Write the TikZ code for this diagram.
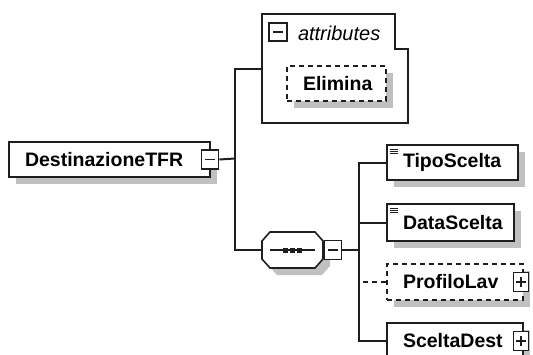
\documentclass[tikz,border=0pt]{standalone}
\usepackage{fontspec}
\newfontfamily\xsdfont{Liberation Sans}
\usetikzlibrary{shadows}
\definecolor{shadegray}{RGB}{192,192,192}
\definecolor{inkgray}{RGB}{30,30,30}

\begin{document}
\begin{tikzpicture}[x=1pt,y=-1pt,line width=2pt,draw=inkgray,
  every node/.style={font=\xsdfont\fontsize{19.5}{22}\selectfont\bfseries},
  elem/.style={draw=inkgray,fill=white,anchor=north west,inner xsep=16pt,inner ysep=0pt,
    align=left,drop shadow={shadow xshift=7pt,shadow yshift=-7pt,fill=shadegray,opacity=1}},
  optelem/.style={elem,dash pattern=on 5pt off 4pt},
  simple/.style={path picture={
    \foreach \dy in {4,6,8}
      \draw[line width=0.9pt] ([xshift=2.5pt,yshift=-\dy pt]path picture bounding box.north west) -- ++(8pt,0);}},
  minusbox/.style={draw=inkgray,fill=white,minimum width=17pt,minimum height=19pt,inner sep=0pt,line width=1.6pt,
    path picture={\draw[line width=1.4pt] ([xshift=-5pt]path picture bounding box.center) -- ([xshift=5pt]path picture bounding box.center);}},
  plusbox/.style={draw=inkgray,fill=white,minimum width=15pt,minimum height=19pt,inner sep=0pt,line width=1.6pt,
    path picture={\draw[line width=1.4pt] ([xshift=-5pt]path picture bounding box.center) -- ([xshift=5pt]path picture bounding box.center)
      ([yshift=-5pt]path picture bounding box.center) -- ([yshift=5pt]path picture bounding box.center);}},
  seqshape/.style={draw=inkgray,fill=white,line width=1.6pt,
    drop shadow={shadow xshift=7pt,shadow yshift=-7pt,fill=shadegray,opacity=1}},
  optline/.style={dash pattern=on 5pt off 4pt}]

  \useasboundingbox (0,0) rectangle (533,354);

  % root element
  \node[elem,text width=169pt,minimum height=35pt] (root) at (8,141) {DestinazioneTFR};
  \node[minusbox] (rootx) at ([xshift=-1pt]root.east) {};
  \coordinate (rootfork) at (235,158.5);

  % attributes group
  \node[minimum width=144pt,minimum height=107pt,inner sep=0pt,anchor=north west] (attrs) at (262,14) {};
  \draw (attrs.north west) -- ([xshift=-13pt]attrs.north east) -- ([xshift=-13pt,yshift=-35pt]attrs.north east)
    -- ([yshift=-35pt]attrs.north east) -- (attrs.south east) -- (attrs.south west) -- cycle;
  \node[draw=inkgray,minimum size=18pt,inner sep=0pt,line width=1.6pt,
    path picture={\draw[line width=1.4pt] ([xshift=-5pt]path picture bounding box.center) -- ([xshift=5pt]path picture bounding box.center);}]
    (attrx) at (278,32) {};
  \node[anchor=west,inner sep=0pt,font=\xsdfont\fontsize{20}{22}\selectfont\itshape] (attrlabel) at (297,33) {attributes};
  \node[optelem,text width=67pt,minimum height=35pt] (elimina) at (286,65) {Elimina};

  % sequence
  \node[minimum width=61pt,minimum height=36pt,inner sep=0pt] (seq) at (292.5,250) {};
  \path[seqshape] ([shift={(-30.5,-9)}]seq.center) -- ([shift={(-22.5,-18)}]seq.center)
    -- ([shift={(22.5,-18)}]seq.center) -- ([shift={(30.5,-9)}]seq.center)
    -- ([shift={(30.5,9)}]seq.center) -- ([shift={(22.5,18)}]seq.center)
    -- ([shift={(-22.5,18)}]seq.center) -- ([shift={(-30.5,9)}]seq.center) -- cycle;
  \draw[line width=1.4pt] ([xshift=-22.5pt]seq.center) -- ([xshift=22.5pt]seq.center);
  \foreach \dx in {-7,0,7}
    \fill[inkgray] ([shift={(\dx-2.5,-2.5)}]seq.center) rectangle +(5,5);
  \node[minusbox] (seqx) at ([xshift=9pt]seq.east) {};
  \coordinate (seqfork) at (359,250);

  % children
  \node[elem,simple,text width=99pt,minimum height=35pt] (tipo) at (386,144) {TipoScelta};
  \node[elem,simple,text width=95pt,minimum height=37pt] (data) at (386,203) {DataScelta};
  \node[optelem,text width=104pt,minimum height=36pt] (profilo) at (386,263) {ProfiloLav};
  \node[plusbox] (profilox) at ([xshift=-3pt]profilo.east) {};
  \node[elem,text width=104pt,minimum height=36pt] (scelta) at (386,322) {SceltaDest};
  \node[plusbox] (sceltax) at ([xshift=-3pt]scelta.east) {};

  % connectors
  \draw (rootx.east) -- (rootfork);
  \draw (attrs.west) -| (rootfork) |- (seq.west);
  \draw (seqx.east) -- (seqfork);
  \draw (tipo.west) -| (seqfork) |- (scelta.west);
  \draw (data.west) -- (data.west -| seqfork);
  \draw[optline] (profilo.west) -- (profilo.west -| seqfork);
\end{tikzpicture}
\end{document}
